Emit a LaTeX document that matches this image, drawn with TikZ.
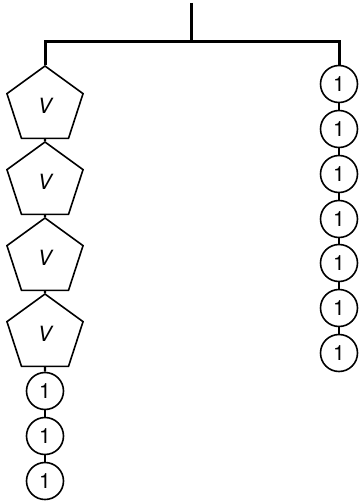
\documentclass[tikz,border=0pt]{standalone}
\usepackage{fontspec}
\setmainfont{TeX Gyre Heros}
\usetikzlibrary{shapes.geometric, positioning}

\tikzset{
  pent/.style={draw, line width=1.6pt, regular polygon, regular polygon sides=5,
    minimum size=80pt, inner sep=0pt, font=\fontsize{21}{21}\selectfont\itshape},
  unit/.style={draw, line width=1.6pt, circle, minimum size=37pt, inner sep=0pt,
    font=\fontsize{21}{21}\selectfont},
  link/.style={line width=2.4pt},
  tree/.style={line width=3pt}
}

\begin{document}
\begin{tikzpicture}[x=1pt, y=-1pt]
		% page frame
		\useasboundingbox (0,0) rectangle (359,503);
		
		% left column: pentagons
		\foreach \i/\yy in {1/106, 2/182, 3/258, 4/334}
			\node[pent] (p\i) at (45,\yy) {V};
		
		% left column: circles below
		\foreach \i/\yy in {1/391, 2/436, 3/481}
			\node[unit] (c\i) at (45,\yy) {1};
		
		% right column: circles
		\foreach \i/\yy in {1/84, 2/129, 3/174, 4/219, 5/263, 6/308, 7/353}
			\node[unit] (r\i) at (339,\yy) {1};
		
		% short links down each column
		\foreach \a/\b in {p1/p2, p2/p3, p3/p4, p4/c1, c1/c2, c2/c3}
			\draw[link] (\a.south) -- (\b.north);
		\foreach \a/\b in {r1/r2, r2/r3, r3/r4, r4/r5, r5/r6, r6/r7}
			\draw[link] (\a.south) -- (\b.north);
		
		% top of the tree
		\coordinate (root) at (191,3);
		\coordinate (hub) at (191,42);
		\draw[tree] (root) -- (hub);
		\draw[tree] (p1.north) |- (hub) -| (r1.north);
		
	\end{tikzpicture}
\end{document}
